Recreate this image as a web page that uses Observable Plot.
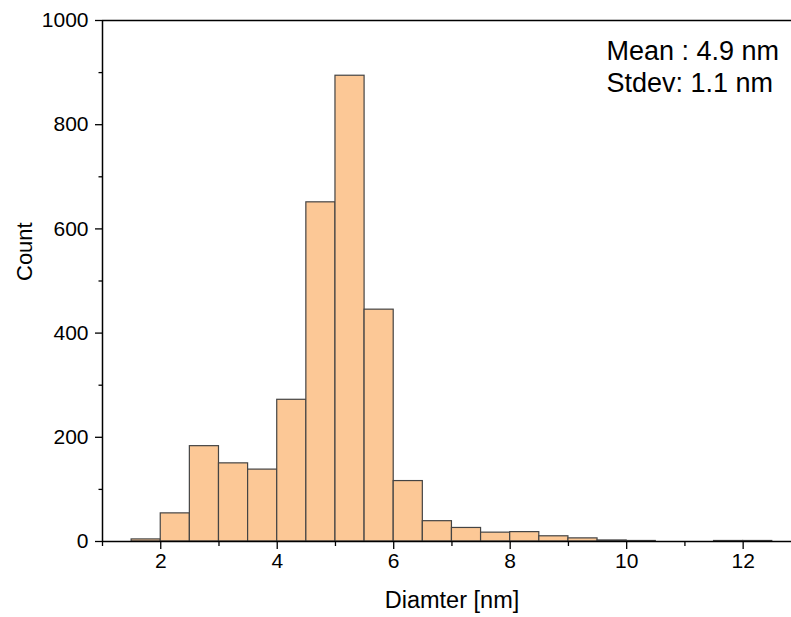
<!DOCTYPE html>
<html>
<head>
<meta charset="utf-8">
<script src="https://cdn.jsdelivr.net/npm/d3@7"></script>
<script src="https://cdn.jsdelivr.net/npm/@observablehq/plot@0.6"></script>
<style>
  html, body { margin: 0; padding: 0; background: #fff; }
  #chart svg { display: block; }
</style>
</head>
<body>
<div id="chart"></div>
<script>
const binStart = [1.5, 2, 2.5, 3, 3.5, 4, 4.5, 5, 5.5, 6, 6.5, 7, 7.5, 8, 8.5, 9, 9.5, 10, 10.5, 11, 11.5, 12];
const binWidth = 0.5;
const counts   = [4, 54, 183, 150, 138, 272, 651, 894, 445, 116, 39, 26, 17, 18, 10, 6, 2, 1, 0, 0, 1, 1];
const xMajorTicks = [2, 4, 6, 8, 10, 12];
const xMinorTicks = [1, 3, 5, 7, 9, 11];
const yMajorTicks = [0, 200, 400, 600, 800, 1000];
const yMinorTicks = [100, 300, 500, 700, 900];
const statsText = ["Mean : 4.9 nm", "Stdev: 1.1 nm"];
const xLabel = "Diamter [nm]";
const yLabel = "Count";

const bins = binStart.map((s, i) => ({x1: s, x2: s + binWidth, y: counts[i]}));

const chart = Plot.plot({
  width: 791,
  height: 617,
  marginLeft: 102,
  marginRight: 0,
  marginTop: 20,
  marginBottom: 76,
  style: {fontFamily: "'Liberation Sans', Arial, sans-serif", fontSize: "20px", color: "#000", background: "#fff"},
  x: {domain: [1, 12.83]},
  y: {domain: [0, 1000]},
  marks: [
    Plot.rectY(bins, {x1: "x1", x2: "x2", y: "y", fill: "#fcc896", stroke: "#444", strokeWidth: 1.2, inset: 0}),
    Plot.axisX({ticks: xMajorTicks, tickSize: 8, tickPadding: 4, strokeWidth: 1.3, fontSize: 21, tickFormat: d => String(d), label: null}),
    Plot.axisX({ticks: xMinorTicks, tickSize: 5, text: null, label: null, strokeWidth: 1.3}),
    Plot.axisY({ticks: yMajorTicks, tickSize: 7, tickPadding: 7, strokeWidth: 1.3, fontSize: 21, tickFormat: d => String(d), label: null}),
    Plot.axisY({ticks: yMinorTicks, tickSize: 3.5, text: null, label: null, strokeWidth: 1.3}),
    Plot.text([xLabel], {frameAnchor: "bottom", lineAnchor: "bottom", dx: 5, dy: 66, fontSize: 23.5}),
    Plot.text([yLabel], {frameAnchor: "left", rotate: -90, dx: -78, fontSize: 22}),
    Plot.ruleY([0], {strokeWidth: 1.5}),
    Plot.ruleY([1000], {strokeWidth: 1.5}),
    Plot.ruleX([1], {strokeWidth: 1.5}),
    Plot.text([statsText.join("\n")], {frameAnchor: "top-left", textAnchor: "start", lineAnchor: "top", dx: 504, dy: 17, fontSize: 27, lineHeight: 1.19})
  ]
});
document.getElementById("chart").appendChild(chart);
</script>
</body>
</html>
